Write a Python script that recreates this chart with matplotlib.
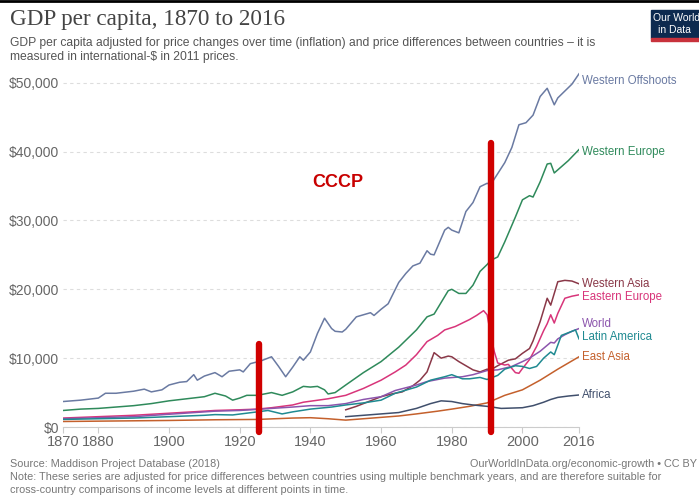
import matplotlib
matplotlib.use("Agg")
import matplotlib.pyplot as plt
from matplotlib.patches import Rectangle

# 地域別データ (千ドル, 2011年価格)
wo_years = [1870, 1875, 1880, 1882, 1885, 1890, 1893, 1895, 1898, 1900, 1903, 1905, 1907, 1908,
            1910, 1913, 1915, 1917, 1920, 1921, 1923, 1926, 1929, 1931, 1933, 1935, 1937, 1938,
            1940, 1942, 1944, 1946, 1947, 1949, 1950, 1953, 1955, 1957, 1958, 1960, 1962, 1965,
            1967, 1969, 1971, 1973, 1974, 1975, 1978, 1979, 1980, 1982, 1984, 1986, 1988, 1990,
            1991, 1993, 1995, 1997, 1999, 2001, 2003, 2005, 2007, 2009, 2010, 2012, 2014, 2016]
wo_vals = [3.7, 3.9, 4.2, 4.9, 4.9, 5.2, 5.5, 5.1, 5.4, 6.1, 6.5, 6.6, 7.6, 6.8,
           7.4, 7.9, 7.3, 8.1, 8.3, 8.0, 9.2, 9.6, 10.2, 8.8, 7.3, 8.7, 10.2, 9.7,
           10.9, 13.6, 15.8, 14.3, 13.9, 13.8, 14.2, 16.0, 16.3, 16.6, 16.2, 17.1, 17.9, 21.0,
           22.3, 23.4, 23.8, 25.6, 25.1, 25.0, 28.6, 29.0, 28.6, 28.2, 31.3, 32.6, 34.9, 35.4,
           35.2, 36.8, 38.4, 40.6, 43.9, 44.2, 45.3, 48.0, 49.2, 46.8, 47.8, 48.8, 49.8, 51.3]

we_years = [1870, 1875, 1880, 1885, 1890, 1895, 1900, 1905, 1910, 1913, 1916, 1918, 1920, 1922,
            1925, 1929, 1932, 1935, 1938, 1940, 1942, 1944, 1945, 1947, 1950, 1955, 1960, 1965,
            1970, 1973, 1975, 1979, 1980, 1982, 1984, 1986, 1988, 1990, 1991, 1993, 1995, 1998,
            2000, 2002, 2003, 2005, 2007, 2008, 2009, 2011, 2013, 2016]
we_vals = [2.4, 2.6, 2.7, 2.9, 3.1, 3.4, 3.8, 4.1, 4.4, 4.9, 4.5, 3.9, 4.2, 4.6,
           4.6, 5.0, 4.6, 5.1, 5.9, 5.8, 5.9, 5.4, 4.8, 5.0, 6.1, 7.9, 9.5, 11.6,
           14.1, 16.0, 16.4, 19.8, 20.0, 19.4, 19.4, 20.6, 22.6, 23.6, 24.2, 24.7, 26.9, 30.5,
           33.0, 33.6, 33.4, 35.6, 38.2, 38.3, 36.9, 37.8, 38.7, 40.3]

wa_years = [1950, 1953, 1956, 1960, 1963, 1966, 1969, 1971, 1973, 1974, 1975, 1977, 1979, 1980,
            1982, 1984, 1986, 1988, 1990, 1991, 1993, 1996, 1998, 2000, 2002, 2003, 2005, 2007,
            2008, 2010, 2012, 2014, 2016]
wa_vals = [2.5, 3.0, 3.6, 4.4, 4.8, 5.1, 6.0, 6.8, 8.0, 9.4, 10.8, 10.0, 10.3, 10.2,
           9.5, 8.9, 8.3, 8.0, 8.4, 8.3, 8.9, 9.7, 9.9, 10.7, 11.4, 12.5, 15.3, 18.7,
           17.7, 21.1, 21.3, 21.2, 20.8]

ee_years = [1870, 1880, 1890, 1900, 1910, 1913, 1920, 1925, 1929, 1935, 1938, 1945, 1950, 1955,
            1960, 1964, 1967, 1970, 1973, 1976, 1978, 1981, 1983, 1985, 1987, 1989, 1990, 1991,
            1992, 1993, 1995, 1996, 1998, 1999, 2000, 2002, 2004, 2006, 2007, 2008, 2009, 2010,
            2012, 2014, 2016]
ee_vals = [1.3, 1.5, 1.7, 2.0, 2.3, 2.4, 2.5, 2.6, 2.8, 3.2, 3.6, 4.1, 4.6, 5.6,
           6.8, 8.0, 9.0, 10.5, 12.4, 13.3, 14.1, 14.6, 15.1, 15.6, 16.2, 16.9, 16.3, 13.5,
           11.0, 9.3, 9.0, 9.1, 7.9, 7.8, 8.5, 9.8, 11.7, 14.0, 15.0, 16.3, 15.1, 16.5,
           18.7, 19.0, 19.2]

world_years = [1870, 1880, 1890, 1900, 1913, 1920, 1929, 1935, 1940, 1945, 1950, 1955, 1960, 1964,
               1970, 1973, 1978, 1983, 1986, 1990, 1993, 1997, 2000, 2002, 2005, 2008, 2009, 2010,
               2012, 2014, 2016]
world_vals = [1.2, 1.35, 1.5, 1.85, 2.3, 2.4, 2.7, 2.9, 3.1, 3.1, 3.4, 4.0, 4.4, 5.3,
              6.1, 6.6, 7.1, 7.3, 7.6, 8.2, 8.3, 8.8, 9.5, 10.0, 11.0, 12.3, 12.2, 12.8,
              13.4, 13.9, 14.3]

la_years = [1870, 1880, 1890, 1900, 1910, 1913, 1918, 1925, 1928, 1932, 1935, 1940, 1946, 1950,
            1955, 1960, 1964, 1970, 1974, 1978, 1980, 1983, 1985, 1988, 1990, 1993, 1995, 1998,
            2000, 2002, 2004, 2006, 2008, 2009, 2011, 2013, 2015, 2016]
la_vals = [1.1, 1.2, 1.3, 1.5, 1.7, 1.8, 1.75, 2.2, 2.4, 1.9, 2.2, 2.6, 2.9, 3.2,
           3.5, 3.9, 4.9, 5.8, 6.8, 7.3, 7.6, 7.0, 7.0, 7.2, 6.9, 7.5, 8.4, 8.9,
           8.8, 8.5, 8.8, 10.0, 10.9, 10.5, 13.3, 13.7, 14.1, 12.8]

ea_years = [1870, 1880, 1900, 1913, 1925, 1935, 1940, 1945, 1950, 1955, 1960, 1965, 1970, 1976,
            1980, 1985, 1990, 1995, 2000, 2005, 2010, 2016]
ea_vals = [0.8, 0.85, 0.95, 1.05, 1.1, 1.3, 1.35, 1.2, 1.0, 1.2, 1.4, 1.6, 1.9, 2.3,
           2.6, 3.0, 3.5, 4.6, 5.4, 6.8, 8.4, 10.2]

af_years = [1950, 1955, 1960, 1965, 1970, 1974, 1977, 1980, 1983, 1986, 1990, 1994, 1997, 2000,
            2003, 2006, 2008, 2010, 2013, 2016]
af_vals = [1.5, 1.7, 1.9, 2.1, 2.7, 3.4, 3.8, 3.7, 3.4, 3.2, 3.0, 2.7, 2.75, 2.8,
           3.1, 3.6, 4.0, 4.3, 4.5, 4.65]

# ラベル名, 色, ラベル位置(千ドル)
series = [
    ("Western Offshoots", wo_years, wo_vals, "#6a7aa2", 50.3),
    ("Western Europe", we_years, we_vals, "#2f8a5b", 40.0),
    ("Western Asia", wa_years, wa_vals, "#8a3848", 20.8),
    ("Eastern Europe", ee_years, ee_vals, "#d8357a", 18.9),
    ("World", world_years, world_vals, "#8c55ad", 14.9),
    ("Latin America", la_years, la_vals, "#1f8a91", 13.0),
    ("East Asia", ea_years, ea_vals, "#c4602c", 10.1),
    ("Africa", af_years, af_vals, "#404f6c", 4.6),
]

# 赤い縦線 (ソ連の期間)
ussr_years = [1925.5, 1991]
ussr_tops = [12.0, 41.2]
ussr_bottom = -0.7

gray = "#666666"

fig = plt.figure(figsize=(6.99, 5.04), dpi=100)
ax = fig.add_axes([63 / 699, 1 - 427 / 504, (579 - 63) / 699, (427 - 69) / 504])

for name, yrs, vals, col, lab_y in series:
    ax.plot(yrs, [v * 1000 for v in vals], color=col, linewidth=1.1)
    ax.text(2016.9, lab_y * 1000, name, color=col, fontsize=8.3, va="center",
            ha="left", clip_on=False, family="Liberation Sans")

for yr, top in zip(ussr_years, ussr_tops):
    ax.plot([yr, yr], [ussr_bottom * 1000, top * 1000], color="#d00000", linewidth=4.6,
            solid_capstyle="round", clip_on=False, zorder=5)

ax.text(1947.8, 35500, "CCCP", color="#c80000", fontsize=13, fontweight="bold",
        ha="center", va="center", family="Liberation Sans")

ax.set_xlim(1870, 2016)
ax.set_ylim(0, 52000)
ax.set_xticks([1870, 1880, 1900, 1920, 1940, 1960, 1980, 2000, 2016])
ax.set_yticks([0, 10000, 20000, 30000, 40000, 50000])
ax.set_yticklabels(["$0", "$10,000", "$20,000", "$30,000", "$40,000", "$50,000"])
for lab in ax.get_xticklabels() + ax.get_yticklabels():
    lab.set_family("Liberation Sans")
ax.tick_params(axis="x", colors=gray, labelsize=10.5, length=4, color="#cccccc", pad=2)
ax.tick_params(axis="y", colors=gray, labelsize=10, length=0, pad=3)
ax.yaxis.grid(True, color="#dddddd", linestyle=(0, (3, 3)), linewidth=0.8)
ax.set_axisbelow(True)
for s in ["top", "right", "left"]:
    ax.spines[s].set_visible(False)
ax.spines["bottom"].set_color("#cccccc")

# タイトルとサブタイトル
fig.text(10 / 699, 1 - 20 / 504, "GDP per capita, 1870 to 2016", fontsize=16.7,
         family="Liberation Serif", color="#444444", va="center")
fig.text(10 / 699, 1 - 43 / 504,
         "GDP per capita adjusted for price changes over time (inflation) and price differences between countries – it is",
         fontsize=8.7, family="Liberation Sans", color="#555555", va="center")
fig.text(10 / 699, 1 - 57 / 504, "measured in international-$ in 2011 prices.",
         fontsize=8.7, family="Liberation Sans", color="#555555", va="center")

# フッター
fig.text(10 / 699, 1 - 464 / 504, "Source: Maddison Project Database (2018)",
         fontsize=7.8, family="Liberation Sans", color="#777777", va="center")
fig.text(697 / 699, 1 - 464 / 504, "OurWorldInData.org/economic-growth • CC BY",
         fontsize=7.8, family="Liberation Sans", color="#777777", va="center", ha="right")
fig.text(10 / 699, 1 - 477 / 504,
         "Note: These series are adjusted for price differences between countries using multiple benchmark years, and are therefore suitable for",
         fontsize=7.8, family="Liberation Sans", color="#777777", va="center")
fig.text(10 / 699, 1 - 490 / 504, "cross-country comparisons of income levels at different points in time.",
         fontsize=7.8, family="Liberation Sans", color="#777777", va="center")

# ロゴ
fig.patches.append(Rectangle((651 / 699, 1 - 38 / 504), 60 / 699, 28 / 504,
                             transform=fig.transFigure, color="#0d2a4f", zorder=1))
fig.patches.append(Rectangle((651 / 699, 1 - 41 / 504), 60 / 699, 3 / 504,
                             transform=fig.transFigure, color="#c8323c", zorder=1))
fig.text(653 / 699, 1 - 18 / 504, "Our World", fontsize=7.5, family="Liberation Sans",
         color="white", va="center", zorder=2)
fig.text(658 / 699, 1 - 30 / 504, "in Data", fontsize=7.5, family="Liberation Sans",
         color="white", va="center", zorder=2)

# 上端の黒い線
fig.add_artist(plt.Line2D([0, 1], [1 - 1 / 504, 1 - 1 / 504], transform=fig.transFigure,
                          color="black", linewidth=2))

fig.savefig("out.png", dpi=100)
